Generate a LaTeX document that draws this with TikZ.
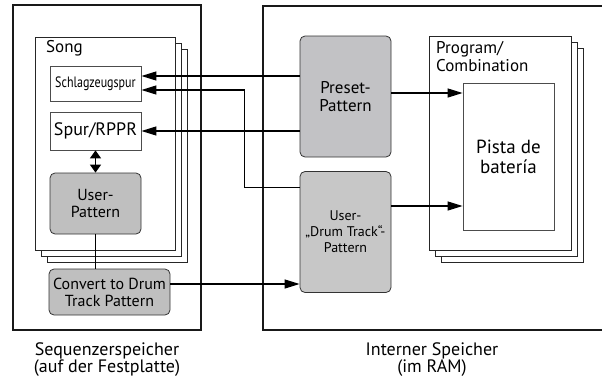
\documentclass[tikz,border=0pt]{standalone}
\usepackage{fontspec}
\setmainfont{PT Sans}
\usetikzlibrary{calc,arrows.meta}

\newcommand{\fsz}[1]{\fontsize{#1}{#1}\selectfont}

\tikzset{
	box/.style={draw=black!70, fill=white, line width=0.8pt, inner sep=1pt, align=center},
	greybox/.style={box, draw=black!80, rounded corners=5pt},
	page/.style={draw=black!85, fill=white, line width=0.8pt},
	memory/.style={draw=black!90, line width=1.8pt},
	memlabel/.style={align=center, font=\fontsize{18}{17.5}\selectfont},
	arr/.style={line width=1.2pt, -{Triangle[length=15pt,width=9pt]}},
	dblarr/.style={line width=1.5pt, {Triangle[length=8pt,width=11pt]}-{Triangle[length=8pt,width=11pt]}},
}

\begin{document}
\begin{tikzpicture}[x=1pt,y=-1pt,font=\fsz{16}]
		\useasboundingbox (0,0) rectangle (602,378);
		
		\newcommand{\pagestack}[4]{%
			\foreach \o in {12,6}
			{   \draw[page] (#1+\o,#2+\o) rectangle (#3+\o,#4+\o);
			}
			\draw[page] (#1,#2) rectangle (#3,#4);
		}
		
		% Speicherbereiche
		\draw[memory] (13,5) rectangle (201,330);
		\draw[memory] (263,6) rectangle (612,330);
		
		\node[memlabel] (seqlabel) at (107,359.5) {Sequenzerspeicher\\(auf der Festplatte)};
		\node[memlabel] (ramlabel) at (432,359.5) {Interner Speicher\\(im RAM)};
		
		% Song
		\pagestack{35}{37}{175}{250}
		\node[anchor=base west, inner sep=0pt, font=\fsz{17}] (songlabel) at (46,52) {Song};
		
		\node[box, minimum width=91pt, minimum height=35pt, font=\fsz{15}] (schlag) at (95.5,83.5) {\scalebox{0.8}[1]{Schlagzeugspur}};
		\node[box, minimum width=91pt, minimum height=38pt, font=\fsz{18}] (spur) at (95.5,131) {Spur/RPPR};
		\node[greybox, fill=black!25, minimum width=91pt, minimum height=61pt] (user) at (95.5,203.5) {User-\\[1pt]Pattern};
		\node[greybox, fill=black!25, minimum width=121pt, minimum height=46pt] (convert) at (109.5,292) {Convert to Drum\\[1pt]Track Pattern};
		
		% Program/Combination
		\pagestack{429}{36}{571}{250}
		\node[anchor=north west, inner sep=0pt, align=left, font=\fsz{17}] (proglabel) at (436,41) {Program/\\[1pt]Combination};
		\node[box, minimum width=91pt, minimum height=147pt, font=\fsz{19}] (pista) at (508.5,156.5) {Pista de\\[1pt]batería};
		
		% Pattern im RAM
		\node[greybox, fill=blue!5!black!24, minimum width=91pt, minimum height=121pt, font=\fsz{17}] (preset) at (345.5,96.5) {Preset-\\[1pt]Pattern};
		\node[greybox, fill=black!22, minimum width=91pt, minimum height=121pt, font=\fsz{14}] (udrum) at (345.5,232) {User-\\[2pt]„Drum Track“-\\[2pt]Pattern};
		
		% Verbindungen
		\coordinate (schlagA) at ([yshift=7.5pt]schlag.east);
		\coordinate (schlagB) at ([yshift=-6.5pt]schlag.east);
		\coordinate (udrumA) at ([yshift=-16pt]udrum.north west);
		\coordinate (udrumB) at ([yshift=26pt]udrum.east);
		\coordinate (presetA) at ([yshift=3.5pt]preset.east);
		\coordinate (convertA) at ([yshift=8pt]convert.east);
		
		\draw[arr] (schlagA -| preset.west) -- (schlagA);
		\draw[arr] (spur.east -| preset.west) -- (spur.east);
		\draw[arr] (udrumA) -- ++(-55,0) |- (schlagB);
		\draw[arr] (convertA) -- (convertA -| udrum.west);
		\draw[arr] (presetA) -- (presetA -| pista.west);
		\draw[arr] (udrumB) -- (udrumB -| pista.west);
		
		\draw[dblarr] (spur.south) -- (user.north);
		\draw[line width=1.2pt] (user.south) -- (user.south |- convert.north);
		
	\end{tikzpicture}
\end{document}
